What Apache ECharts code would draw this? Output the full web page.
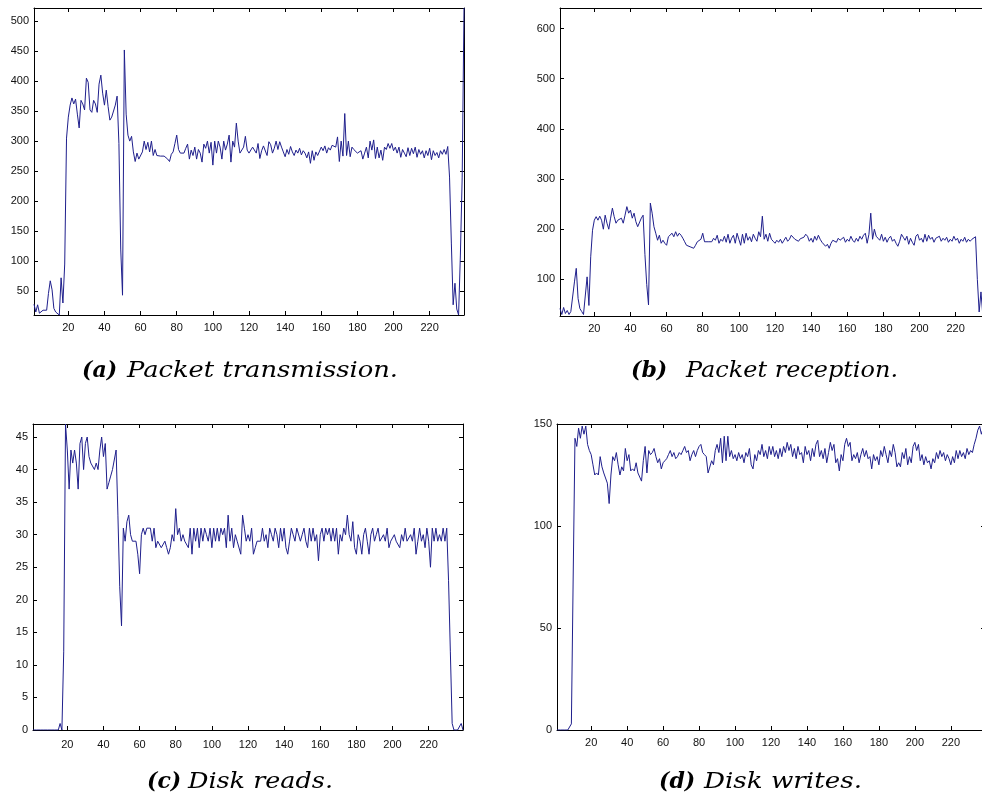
<!DOCTYPE html>
<html>
<head>
<meta charset="utf-8">
<script src="https://cdn.jsdelivr.net/npm/echarts@6/dist/echarts.min.js"></script>
<style>
  html, body { margin: 0; padding: 0; background: #ffffff; overflow: hidden; }
  #chart { width: 982px; height: 803px; }
</style>
</head>
<body>
<div id="chart"></div>
<script>
// Per-sample counts, one value per time step (1..239)
const txPackets = [
  28, 15, 27, 13, 15, 18, 15, 18, 46, 67,
  52, 21, 15, 13, 10, 72, 30, 95, 305, 340,
  360, 372, 362, 370, 345, 322, 368, 362, 352, 405,
  398, 352, 348, 368, 362, 348, 395, 410, 380, 360,
  385, 358, 335, 340, 340, 360, 375, 296, 120, 43,
  452, 345, 310, 300, 308, 282, 266, 280, 270, 268,
  282, 300, 286, 298, 282, 300, 276, 286, 276, 275,
  275, 274, 275, 273, 270, 266, 278, 282, 296, 310,
  286, 280, 278, 280, 288, 295, 270, 285, 276, 290,
  270, 286, 280, 265, 295, 288, 300, 280, 298, 260,
  300, 280, 300, 290, 270, 300, 285, 295, 310, 265,
  300, 290, 330, 300, 280, 278, 290, 308, 285, 280,
  277, 290, 291, 280, 296, 271, 284, 292, 290, 276,
  299, 294, 280, 288, 300, 286, 299, 290, 282, 274,
  286, 278, 291, 282, 276, 285, 280, 288, 277, 284,
  280, 272, 282, 263, 284, 268, 282, 276, 279, 290,
  284, 292, 280, 289, 285, 293, 296, 290, 307, 266,
  300, 275, 346, 276, 300, 274, 290, 286, 283, 280,
  278, 284, 270, 280, 290, 272, 300, 285, 302, 271,
  290, 272, 285, 268, 290, 286, 296, 288, 296, 284,
  290, 280, 290, 273, 286, 280, 274, 289, 276, 288,
  279, 290, 273, 286, 278, 284, 272, 284, 276, 288,
  269, 284, 276, 281, 272, 284, 278, 286, 278, 291,
  240, 130, 27, 63, 20, 10, 110, 240, 522
];

const rxPackets = [
  42, 30, 44, 32, 38, 30, 36, 34, 95, 122,
  62, 42, 36, 30, 27, 105, 48, 145, 198, 218,
  225, 218, 226, 218, 200, 228, 212, 200, 222, 242,
  225, 212, 218, 215, 222, 212, 228, 245, 232, 238,
  222, 232, 215, 205, 205, 222, 228, 150, 90, 49,
  252, 232, 205, 192, 178, 188, 172, 178, 172, 168,
  185, 182, 192, 185, 195, 186, 192, 188, 182, 175,
  168, 170, 165, 168, 162, 168, 175, 172, 180, 192,
  175, 178, 175, 176, 175, 182, 178, 188, 172, 180,
  176, 186, 174, 190, 172, 182, 188, 172, 192, 180,
  168, 190, 172, 192, 178, 185, 175, 190, 182, 176,
  195, 185, 226, 180, 190, 176, 192, 180, 176, 172,
  178, 174, 180, 172, 178, 184, 176, 180, 188, 186,
  180, 183, 176, 181, 178, 184, 190, 186, 176, 182,
  174, 186, 178, 188, 180, 174, 176, 166, 170, 162,
  172, 178, 180, 174, 182, 178, 176, 184, 174, 180,
  176, 186, 178, 174, 182, 176, 186, 180, 188, 192,
  172, 190, 232, 180, 200, 186, 182, 178, 190, 176,
  184, 174, 182, 186, 176, 180, 172, 166, 176, 190,
  184, 178, 186, 170, 182, 174, 168, 186, 190, 178,
  182, 174, 190, 176, 188, 180, 184, 174, 182, 180,
  186, 176, 182, 178, 184, 174, 180, 176, 186, 178,
  182, 172, 180, 176, 184, 174, 180, 176, 180, 178,
  185, 100, 35, 75, 30, 27, 100, 300, 641
];

const diskReads = [
  0, 0, 0, 0, 0, 0, 0, 0, 0, 0,
  0, 0, 0, 0, 0, 1, 0, 12, 47, 43,
  37, 43, 41, 43, 41, 37, 44, 45, 40, 44,
  45, 42, 41, 41, 40, 41, 40, 43, 45, 42,
  44, 37, 38, 39, 40, 40, 43, 33, 22, 16,
  31, 29, 32, 33, 30, 29, 29, 29, 27, 24,
  30, 31, 30, 31, 31, 31, 29, 31, 28, 29,
  29, 28, 28, 29, 28, 27, 28, 30, 29, 34,
  30, 31, 29, 30, 29, 29, 28, 31, 27, 31,
  29, 31, 28, 31, 29, 31, 30, 29, 31, 28,
  31, 29, 31, 29, 31, 30, 31, 28, 33, 29,
  31, 28, 30, 29, 29, 27, 33, 31, 29, 30,
  29, 31, 27, 28, 29, 29, 29, 31, 29, 30,
  28, 31, 30, 29, 31, 30, 28, 31, 29, 31,
  28, 27, 29, 31, 30, 29, 31, 31, 29, 30,
  31, 29, 28, 31, 29, 31, 29, 30, 26, 30,
  31, 29, 31, 30, 31, 29, 31, 29, 31, 27,
  30, 29, 31, 30, 33, 30, 29, 32, 28, 27,
  30, 29, 27, 30, 31, 29, 27, 30, 31, 29,
  30, 31, 29, 29, 30, 29, 31, 28, 29, 29,
  30, 29, 29, 28, 30, 29, 31, 29, 29, 30,
  29, 31, 27, 29, 31, 29, 30, 28, 31, 29,
  25, 31, 29, 31, 29, 30, 29, 31, 29, 31,
  23, 12, 1, 0, 0, 0, 0, 1, 0
];

const diskWrites = [
  0, 0, 0, 0, 0, 0, 0, 0, 3, 75,
  143, 139, 148, 143, 149, 145, 149, 140, 137, 135,
  130, 125, 126, 125, 134, 129, 126, 126, 121, 111,
  125, 134, 132, 136, 130, 125, 129, 127, 138, 132,
  135, 127, 128, 127, 131, 126, 124, 122, 132, 139,
  126, 137, 135, 136, 138, 134, 131, 133, 128, 131,
  132, 133, 135, 137, 134, 136, 133, 134, 136, 135,
  137, 139, 136, 137, 132, 135, 137, 134, 137, 139,
  140, 136, 135, 134, 126, 126, 132, 130, 137, 140,
  136, 143, 131, 144, 132, 144, 134, 137, 133, 135,
  132, 136, 133, 135, 131, 136, 134, 138, 130, 128,
  135, 132, 137, 135, 140, 134, 137, 133, 139, 135,
  139, 134, 137, 133, 138, 134, 139, 136, 141, 137,
  140, 134, 138, 133, 139, 135, 136, 131, 139, 135,
  137, 132, 138, 134, 140, 142, 134, 137, 133, 138,
  131, 136, 141, 137, 140, 131, 133, 127, 135, 132,
  140, 143, 139, 141, 132, 135, 133, 136, 131, 135,
  138, 134, 137, 133, 134, 128, 135, 132, 134, 130,
  137, 134, 139, 135, 131, 137, 134, 140, 136, 129,
  131, 129, 136, 133, 138, 130, 134, 131, 139, 141,
  137, 140, 132, 135, 130, 134, 131, 132, 128, 133,
  131, 136, 133, 137, 134, 136, 132, 135, 133, 130,
  134, 131, 137, 133, 137, 134, 136, 133, 138, 135,
  137, 136, 140, 143, 147, 149, 145, 148, 150
];

// Tick values
const xTicks = [20, 40, 60, 80, 100, 120, 140, 160, 180, 200, 220];
const txTicks = [50, 100, 150, 200, 250, 300, 350, 400, 450, 500];
const rxTicks = [100, 200, 300, 400, 500, 600];
const readTicks = [0, 5, 10, 15, 20, 25, 30, 35, 40, 45];
const writeTicks = [0, 50, 100, 150];

// Captions
const captionTags = ['(a)', '(b)', '(c)', '(d)'];
const captionTexts = ['Packet transmission.', 'Packet reception.', 'Disk reads.', 'Disk writes.'];

const LINE_COLOR = '#1f1f8c';
const LABEL_FONT = 'Liberation Sans';
const CAPTION_FONT = 'DejaVu Serif';

const panels = [
  { values: txPackets,  yMin: 10, yMax: 522, yTicks: txTicks,
    box: { left: 34,  top: 8,   width: 430, height: 307 }, xMargin: 7,
    cap: { tagX: 82, textX: 127, y: 371, textW: 271 } },
  { values: rxPackets,  yMin: 27, yMax: 641, yTicks: rxTicks,
    box: { left: 560, top: 8,   width: 430, height: 308 }, xMargin: 7,
    cap: { tagX: 631, textX: 686, y: 371, textW: 212 } },
  { values: diskReads,  yMin: 0,  yMax: 47,  yTicks: readTicks,
    box: { left: 33,  top: 424, width: 430, height: 306 }, xMargin: 9,
    cap: { tagX: 147, textX: 188, y: 782, textW: 145 } },
  { values: diskWrites, yMin: 0,  yMax: 150, yTicks: writeTicks,
    box: { left: 557, top: 424, width: 428, height: 306 }, xMargin: 7,
    cap: { tagX: 659, textX: 704, y: 782, textW: 158 } }
];

const axisLine = { show: true, onZero: false, lineStyle: { color: '#000', width: 1 } };
const tickStyle = { color: '#000', width: 1 };

// measure caption text so it can be stretched to the serif caption width
const measureCtx = document.createElement('canvas').getContext('2d');
function textWidth(str, font) { measureCtx.font = font; return measureCtx.measureText(str).width; }

const grid = [], xAxis = [], yAxis = [], series = [], graphic = [];

panels.forEach((p, k) => {
  grid.push(Object.assign({ containLabel: false, outerBoundsMode: 'none' }, p.box));
  const n = p.values.length;
  xAxis.push({
    type: 'value', gridIndex: k, position: 'bottom', min: 1, max: n,
    axisLine, splitLine: { show: false },
    axisTick: { show: true, inside: true, length: 4, lineStyle: tickStyle, customValues: xTicks },
    axisLabel: { show: true, customValues: xTicks, margin: p.xMargin, color: '#111',
                 fontFamily: LABEL_FONT, fontSize: 11 }
  });
  xAxis.push({
    type: 'value', gridIndex: k, position: 'top', min: 1, max: n,
    axisLine, splitLine: { show: false },
    axisTick: { show: true, inside: true, length: 4, lineStyle: tickStyle, customValues: xTicks },
    axisLabel: { show: false }
  });
  yAxis.push({
    type: 'value', gridIndex: k, position: 'left', min: p.yMin, max: p.yMax,
    axisLine, splitLine: { show: false },
    axisTick: { show: true, inside: true, length: 4, lineStyle: tickStyle, customValues: p.yTicks },
    axisLabel: { show: true, customValues: p.yTicks, margin: 5, color: '#111',
                 fontFamily: LABEL_FONT, fontSize: 11 }
  });
  yAxis.push({
    type: 'value', gridIndex: k, position: 'right', min: p.yMin, max: p.yMax,
    axisLine, splitLine: { show: false },
    axisTick: { show: true, inside: true, length: 4, lineStyle: tickStyle, customValues: p.yTicks },
    axisLabel: { show: false }
  });
  series.push({
    type: 'line', xAxisIndex: 2 * k, yAxisIndex: 2 * k,
    data: p.values.map((v, i) => [i + 1, v]),
    showSymbol: false, symbol: 'none', clip: true,
    lineStyle: { color: LINE_COLOR, width: 1 },
    emphasis: { disabled: true }
  });
  const italicFont = 'italic 22px "' + CAPTION_FONT + '"';
  const sx = p.cap.textW / textWidth(captionTexts[k], italicFont);
  graphic.push({
    type: 'text', x: p.cap.tagX, y: p.cap.y,
    style: {
      text: captionTags[k], fill: '#000', align: 'left', verticalAlign: 'middle',
      fontFamily: CAPTION_FONT, fontStyle: 'italic', fontWeight: 'bold', fontSize: 22
    }
  });
  graphic.push({
    type: 'text', x: p.cap.textX, y: p.cap.y, scaleX: sx,
    style: {
      text: captionTexts[k], fill: '#000', align: 'left', verticalAlign: 'middle',
      fontFamily: CAPTION_FONT, fontStyle: 'italic', fontSize: 22
    }
  });
});

const chart = echarts.init(document.getElementById('chart'), null, { renderer: 'canvas' });
chart.setOption({
  backgroundColor: '#ffffff',
  animation: false,
  grid, xAxis, yAxis, series, graphic
});
</script>
</body>
</html>
